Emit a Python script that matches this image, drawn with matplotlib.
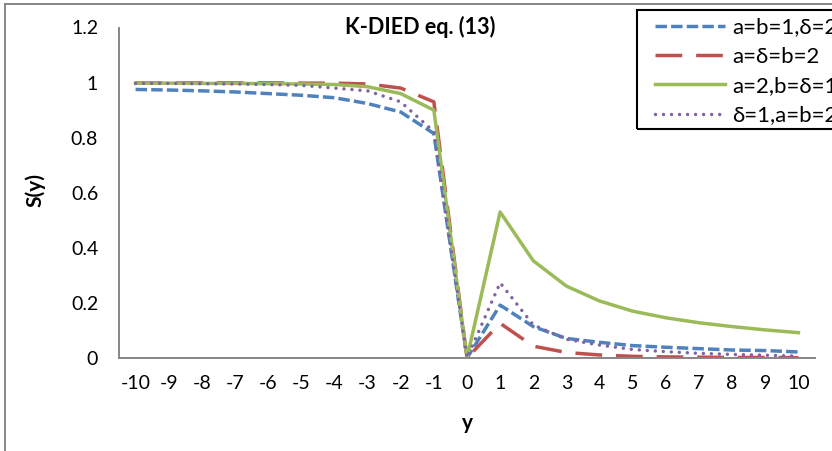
import matplotlib
matplotlib.use("Agg")
import matplotlib.pyplot as plt
from matplotlib.lines import Line2D
from matplotlib.patches import Rectangle

plt.rcParams['font.family'] = ['Lato', 'DejaVu Sans']

# Category axis values
y_values = list(range(-10, 11))

s_a1_b1_d2 = [0.975, 0.973, 0.970, 0.966, 0.960, 0.954, 0.945, 0.924, 0.893, 0.815,
              0.0, 0.192, 0.114, 0.071, 0.057, 0.045, 0.039, 0.034, 0.029, 0.027, 0.022]
s_a2_d2_b2 = [0.999, 0.999, 0.999, 0.999, 0.999, 0.998, 0.998, 0.995, 0.980, 0.930,
              0.0, 0.126, 0.043, 0.020, 0.011, 0.006, 0.004, 0.003, 0.002, 0.002, 0.001]
s_a2_b1_d1 = [0.998, 0.998, 0.997, 0.997, 0.996, 0.995, 0.993, 0.985, 0.960, 0.900,
              0.0, 0.530, 0.353, 0.261, 0.207, 0.170, 0.146, 0.128, 0.114, 0.102, 0.092]
s_d1_a2_b2 = [0.997, 0.997, 0.996, 0.995, 0.993, 0.990, 0.980, 0.970, 0.930, 0.822,
              0.0, 0.273, 0.120, 0.068, 0.047, 0.031, 0.023, 0.017, 0.013, 0.010, 0.007]

labels = ['a=b=1,δ=2', 'a=δ=b=2', 'a=2,b=δ=1', 'δ=1,a=b=2']
colors = ['#4F81BD', '#C0504D', '#9BBB59', '#8064A2']
y_ticks = [0, 0.2, 0.4, 0.6, 0.8, 1, 1.2]
y_tick_labels = ['0', '0.2', '0.4', '0.6', '0.8', '1', '1.2']

W, H = 832, 451
fig = plt.figure(figsize=(W / 100, H / 100), dpi=100)

# chart-area frame
fig.add_artist(Line2D([5 / W, 5 / W], [0, 1 - 4 / H], transform=fig.transFigure,
                      color='#868686', lw=1.4))
fig.add_artist(Line2D([5 / W, 1], [1 - 4 / H, 1 - 4 / H], transform=fig.transFigure,
                      color='#868686', lw=1.4))

ax = fig.add_axes([119 / W, 1 - 358 / H, (815 - 119) / W, (358 - 27.5) / H])
lw = 2.5
styles = {
    'a=b=1,δ=2': dict(dashes=(3.3, 1.2), dash_capstyle='butt'),
    'a=δ=b=2': dict(dashes=(7.7, 4.0), dash_capstyle='butt'),
    'a=2,b=δ=1': dict(),
    'δ=1,a=b=2': dict(dashes=(0.01, 2.3), dash_capstyle='round'),
}
series = [s_a1_b1_d2, s_a2_d2_b2, s_a2_b1_d1, s_d1_a2_b2]
handles = []
for vals, lab, col in zip(series, labels, colors):
    ln, = ax.plot(y_values, vals, color=col, lw=lw, label=lab, **styles[lab])
    handles.append(ln)

ax.set_xlim(-10.5, 10.5)
ax.set_ylim(0, 1.2)
ax.set_xticks(y_values)
ax.set_xticklabels([str(v) for v in y_values], fontsize=14)
ax.set_yticks(y_ticks)
ax.set_yticklabels(y_tick_labels, fontsize=14)
ax.tick_params(axis='both', length=0)
ax.tick_params(axis='x', pad=12)
ax.tick_params(axis='y', pad=15)
for s in ['top', 'right']:
    ax.spines[s].set_visible(False)
for s in ['left', 'bottom']:
    ax.spines[s].set_color('#868686')
    ax.spines[s].set_linewidth(1.4)

ax.set_xlabel('y', fontsize=15, fontweight='bold', va='center')
ax.xaxis.set_label_coords(0.5, (358 - 423) / 330.5)
ax.set_ylabel('S(y)', fontsize=15, fontweight='bold', va='center')
ax.yaxis.set_label_coords((35 - 119) / 696, (358 - 190) / 330.5)
fig.text(420 / W, 1 - 27 / H, 'K-DIED eq. (13)', fontsize=15.5, fontweight='bold',
         ha='center', va='center')

# legend box, partly running past the right edge
fig.add_artist(Rectangle((637 / W, 1 - 129 / H), 400 / W, 119 / H,
                         transform=fig.transFigure, fill=False,
                         edgecolor='black', lw=1.5))
leg = fig.legend(handles=handles, labels=labels, loc='upper left',
                 bbox_to_anchor=(651 / W, 1 - 13 / H), fontsize=16,
                 frameon=False, handlelength=3.15, handletextpad=0.32,
                 labelspacing=0.42, borderpad=0.2, borderaxespad=0)
leg.set_in_layout(False)

fig.savefig('out.png', dpi=100)
